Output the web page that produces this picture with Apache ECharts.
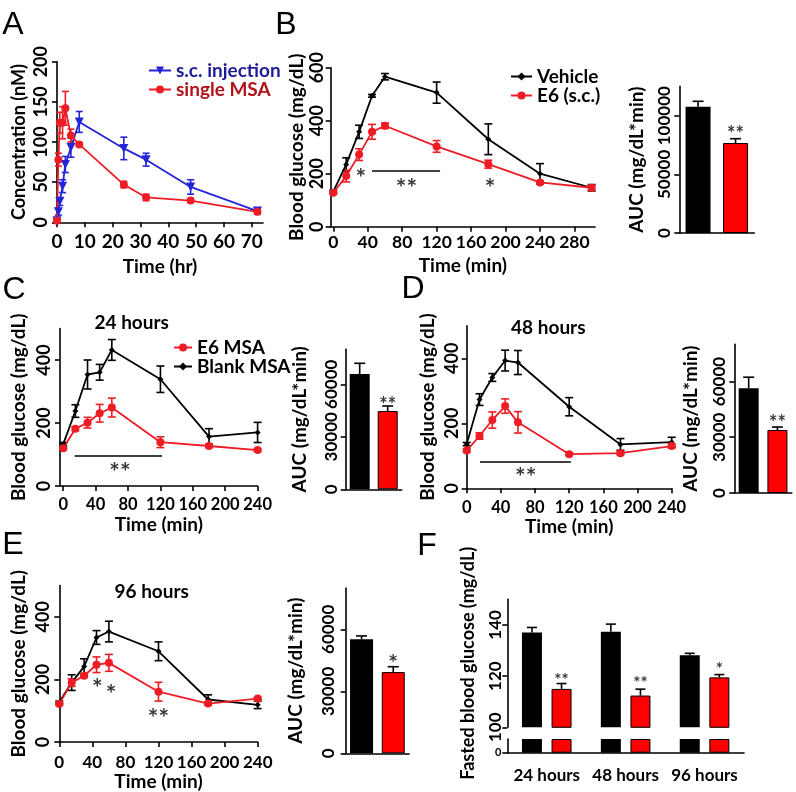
<!DOCTYPE html>
<html><head><meta charset="utf-8">
<script src="https://cdn.jsdelivr.net/npm/echarts@6/dist/echarts.min.js"></script>
<style>html,body{margin:0;padding:0;background:#fff}#c{width:796px;height:792px}</style>
</head><body><div id="c"></div>
<script>
// ---------- DATA ----------
// Panel A (pharmacokinetics)
const aTimes = [0, 0.5, 1, 2, 3, 5, 8, 24, 32, 48, 72];
const aSc = [2, 13, 26, 45, 72, 93, 125, 92, 78, 44, 14];
const aScErr = [2, 4, 5, 8, 10, 12, 13, 14, 8, 9, 4];
const aMsa = [2, 78, 124, 124, 142, 108, 97, 47, 31, 27, 13];
const aMsaErr = [2, 8, 13, 20, 21, 8, 2, 4, 4, 2, 3];
const aXTicks = [0, 10, 20, 30, 40, 50, 60, 70];
const aYTicks = [0, 50, 100, 150, 200];

// Panel B
const bTimes = [0, 15, 30, 45, 60, 120, 180, 240, 300];
const bVeh = [132, 235, 358, 494, 566, 506, 330, 200, 147];
const bVehErr = [5, 25, 25, 5, 12, 40, 58, 38, 12];
const bE6 = [128, 191, 272, 358, 381, 303, 236, 167, 147];
const bE6Err = [5, 22, 22, 28, 10, 22, 15, 6, 10];
const bXTicks = [0, 40, 80, 120, 160, 200, 240, 280];
const bYTicks = [0, 200, 400, 600];
const bSigLine = [45, 124, 211];
const bStars = [[32, 203, '*'], [85, 165, '**'], [182, 166, '*']];
const bAucCats = ['Vehicle', 'E6 (s.c.)'];
const bAuc = [107700, 76700];
const bAucErr = [4600, 3700];
const bAucTicks = [0, 50000, 100000];
const bAucStars = [[1, 88000, '**']];

// Panels C, D, E share time points
const ogttTimes = [0, 15, 30, 45, 60, 120, 180, 240];
const ogttXTicks = [0, 40, 80, 120, 160, 200, 240];
const ogttYTicks = [0, 200, 400];
const aucTicks = [0, 30000, 60000];
const aucCats = ['Blank MSA', 'E6 MSA'];

// Panel C (24 hours)
const cE6 = [120, 182, 201, 231, 249, 139, 127, 114];
const cE6Err = [4, 6, 17, 28, 30, 17, 5, 4];
const cBlank = [133, 238, 354, 361, 432, 339, 157, 170];
const cBlankErr = [5, 20, 46, 25, 33, 42, 25, 32];
const cSigLine = [14, 122, 97];
const cStars = [[70, 61, '**']];
const cAuc = [65900, 44700];
const cAucErr = [6100, 2900];
const cAucStars = [[1, 51000, '**']];

// Panel D (48 hours)
const dBlank = [136, 273, 341, 393, 387, 251, 135, 142];
const dBlankErr = [5, 18, 12, 32, 37, 28, 18, 15];
const dE6 = [116, 161, 210, 253, 203, 105, 108, 130];
const dE6Err = [5, 10, 25, 22, 33, 4, 5, 6];
const dSigLine = [15.6, 122, 82];
const dStars = [[69, 49, '**']];
const dAuc = [56300, 33900];
const dAucErr = [6000, 1600];
const dAucStars = [[1, 40000, '**']];

// Panel E (96 hours)
const eBlank = [127, 190, 241, 334, 353, 290, 136, 119];
const eBlankErr = [4, 25, 25, 22, 33, 30, 15, 12];
const eE6 = [122, 190, 212, 247, 253, 161, 123, 139];
const eE6Err = [4, 12, 5, 25, 27, 30, 5, 4];
const eStars = [[46, 190, '*'], [62.5, 171, '*'], [120, 92, '**']];
const eAuc = [55200, 39300];
const eAucErr = [1600, 2600];
const eAucStars = [[1, 46500, '*']];

// Panel F (fasted blood glucose)
const fCats = ['24 hours', '48 hours', '96 hours'];
const fBlank = [137, 137.3, 128.1];
const fBlankErr = [2, 3, 0.8];
const fE6 = [115, 112.4, 119.5];
const fE6Err = [2.1, 2.5, 1.1];
const fYTicks = [100, 120, 140];
const fStars = [[0, 119.8, '**'], [1, 118.5, '**'], [2, 124.2, '*']];

// ---------- STYLE ----------
const FONT = 'Lato';
const RED = '#ee1c25', BLUE = '#2424d8', BLACK = '#000000';
const plain = v => String(v);

function axisBase(fs) {
  return {
    axisLine: { show: true, onZero: false, lineStyle: { color: '#000', width: 1.6 } },
    axisTick: { show: true, length: 5, lineStyle: { color: '#000', width: 1.6 } },
    splitLine: { show: false },
    axisLabel: { color: '#000', fontFamily: FONT, fontWeight: 'bold', fontSize: fs, formatter: plain },
    nameTextStyle: { color: '#000', fontFamily: FONT, fontWeight: 'bold', fontSize: 19 },
    nameLocation: 'middle'
  };
}
function xValAxis(gi, min, max, ticks, name, gap, fs, margin) {
  const b = axisBase(fs);
  b.axisTick.customValues = ticks;
  b.axisLabel.customValues = ticks;
  b.axisLabel.margin = margin;
  return Object.assign(b, { type: 'value', gridIndex: gi, min, max, name, nameGap: gap });
}
function yValAxis(gi, min, max, ticks, name, gap, fs, margin, nameFs) {
  const b = axisBase(fs);
  b.axisTick.customValues = ticks;
  b.axisLabel.customValues = ticks;
  b.axisLabel.margin = margin;
  b.axisLabel.rotate = 90;
  if (nameFs) b.nameTextStyle.fontSize = nameFs;
  return Object.assign(b, { type: 'value', gridIndex: gi, min, max, name, nameGap: gap });
}
function xCatAxis(gi, cats, showLabels, margin) {
  const b = axisBase(17);
  b.axisTick.show = false;
  b.axisLabel.show = !!showLabels;
  b.axisLabel.margin = margin || 8;
  b.axisLabel.interval = 0;
  delete b.axisLabel.formatter;
  return Object.assign(b, { type: 'category', gridIndex: gi, data: cats });
}

function lineSeries(gi, name, xs, ys, color, symbol, size, rot) {
  return {
    type: 'line', name, xAxisIndex: gi, yAxisIndex: gi,
    data: xs.map((x, i) => [x, ys[i]]),
    symbol, symbolSize: size, symbolRotate: rot || 0, showSymbol: true,
    lineStyle: { color, width: 1.8 }, itemStyle: { color, borderWidth: 0 },
    z: 4, silent: true, animation: false
  };
}
function errSeries(gi, xs, ys, es, color, cap, upOnly, dx) {
  return {
    type: 'custom', xAxisIndex: gi, yAxisIndex: gi, silent: true, animation: false, z: 3, clip: false,
    data: xs.map((x, i) => [x, ys[i], es[i]]),
    renderItem(params, api) {
      const x = api.value(0), y = api.value(1), e = api.value(2);
      const p1 = api.coord([x, y + e]);
      const p0 = api.coord([x, upOnly ? y : y - e]);
      const X = p1[0] + (dx || 0);
      const st = { stroke: color, lineWidth: 1.6 };
      const ch = [
        { type: 'line', shape: { x1: X, y1: p0[1], x2: X, y2: p1[1] }, style: st },
        { type: 'line', shape: { x1: X - cap / 2, y1: p1[1], x2: X + cap / 2, y2: p1[1] }, style: st }
      ];
      if (!upOnly) ch.push({ type: 'line', shape: { x1: X - cap / 2, y1: p0[1], x2: X + cap / 2, y2: p0[1] }, style: st });
      return { type: 'group', children: ch };
    }
  };
}
function starSeries(gi, pts, fs, sig, dx) {
  const s = {
    type: 'scatter', xAxisIndex: gi, yAxisIndex: gi, silent: true, animation: false, z: 6,
    symbolSize: 1, itemStyle: { color: 'transparent' },
    data: pts,
    label: { show: true, position: 'inside', formatter: p => p.data[2], fontFamily: FONT, fontWeight: 'bold',
      fontSize: fs, color: '#000', offset: [dx || 0, Math.round(fs * 0.25)] }
  };
  if (sig) {
    s.markLine = { symbol: 'none', silent: true, animation: false, label: { show: false },
      lineStyle: { color: '#000', width: 1.6, type: 'solid' },
      data: [[{ coord: [sig[0], sig[2]] }, { coord: [sig[1], sig[2]] }]] };
  }
  return s;
}
function barSeries(gi, vals, color, width, gap) {
  return {
    type: 'bar', xAxisIndex: gi, yAxisIndex: gi, silent: true, animation: false, z: 2,
    barWidth: width, barGap: gap,
    data: vals.map((v, i) => [i, v]),
    itemStyle: { color, borderColor: '#000', borderWidth: color === BLACK ? 0 : 1 }
  };
}
function aucBars(gi, vals, errs, width) {
  return [
    { type: 'bar', xAxisIndex: gi, yAxisIndex: gi, silent: true, animation: false, barWidth: width,
      data: vals.map((v, i) => ({ value: v, itemStyle: { color: i === 0 ? BLACK : '#ff0000', borderColor: '#000', borderWidth: i === 0 ? 0 : 1 } })) },
    errSeries(gi, [0, 1], vals, errs, '#000', 11, true, 0)
  ];
}

// ---------- GRIDS ----------
const grids = [
  { left: 57, top: 61.7, width: 206, height: 160.6 },     // 0 A
  { left: 330.7, top: 67.7, width: 264.4, height: 159 },  // 1 B
  { left: 679.3, top: 86.4, width: 75, height: 146.6 },   // 2 B AUC
  { left: 60, top: 328.5, width: 197.6, height: 157.5 },  // 3 C
  { left: 345.7, top: 349.3, width: 56, height: 140 },    // 4 C AUC
  { left: 466.7, top: 325.8, width: 205, height: 162.5 }, // 5 D
  { left: 734.3, top: 344.3, width: 57.5, height: 148.7 },// 6 D AUC
  { left: 59.3, top: 585.5, width: 198.4, height: 158.8 },// 7 E
  { left: 345.7, top: 588, width: 63.4, height: 165.3 },  // 8 E AUC
  { left: 507.3, top: 599.3, width: 236.7, height: 128 }, // 9 F upper
  { left: 507.3, top: 739, width: 236.7, height: 13.7 }   // 10 F lower
];

const fBarW = 20, fGap = 0.48;
const fOff = (fBarW + fBarW * fGap) / 2;

const xAxes = [
  xValAxis(0, 0, 74, aXTicks, 'Time (hr)', 35, 19, 10),
  xValAxis(1, -3, 304, bXTicks, 'Time (min)', 30, 17.5, 7),
  xCatAxis(2, bAucCats),
  xValAxis(3, -4, 240, ogttXTicks, 'Time (min)', 29, 16.5, 10),
  xCatAxis(4, aucCats),
  xValAxis(5, 0, 240, ogttXTicks, 'Time (min)', 27, 16.5, 11),
  xCatAxis(6, aucCats),
  xValAxis(7, 0, 240, ogttXTicks, 'Time (min)', 24, 17, 12),
  xCatAxis(8, aucCats),
  Object.assign(xCatAxis(9, fCats), { axisLine: { show: false } }),
  xCatAxis(10, fCats, true, 14)
];
const yAxes = [
  yValAxis(0, 0, 200, aYTicks, 'Concentration (nM)', 29, 18, 7, 18),
  yValAxis(1, 0, 600, bYTicks, 'Blood glucose (mg/dL)', 23, 18, 5),
  yValAxis(2, 0, 125000, bAucTicks, 'AUC (mg/dL*min)', 33, 17, 6),
  yValAxis(3, 0, 500, ogttYTicks, 'Blood glucose (mg/dL)', 32, 18, 7),
  yValAxis(4, 0, 80000, aucTicks, 'AUC (mg/dL*min)', 36, 17, 6),
  yValAxis(5, 0, 500, ogttYTicks, 'Blood glucose (mg/dL)', 29, 18, 6),
  yValAxis(6, 0, 80000, aucTicks, 'AUC (mg/dL*min)', 34, 17, 6),
  yValAxis(7, 0, 500, ogttYTicks, 'Blood glucose (mg/dL)', 31, 18, 7),
  yValAxis(8, 0, 80000, aucTicks, 'AUC (mg/dL*min)', 40, 17, 9),
  yValAxis(9, 100, 150, fYTicks, 'Fasted blood glucose (mg/dL)', 30, 17, 3, 18),
  Object.assign(yValAxis(10, 0, 10, [0], '', 0, 11, 5), { axisLabel: { rotate: 0, customValues: [0], color: '#000', fontFamily: FONT, fontWeight: 'bold', fontSize: 11, margin: 6 } })
];

const series = [
  // A
  errSeries(0, aTimes, aSc, aScErr, BLUE, 7),
  errSeries(0, aTimes, aMsa, aMsaErr, RED, 7),
  lineSeries(0, 's.c. injection', aTimes, aSc, BLUE, 'triangle', 9, 180),
  lineSeries(0, 'single MSA', aTimes, aMsa, RED, 'circle', 8),
  // B
  errSeries(1, bTimes, bVeh, bVehErr, BLACK, 8),
  errSeries(1, bTimes, bE6, bE6Err, RED, 8),
  lineSeries(1, 'Vehicle', bTimes, bVeh, BLACK, 'diamond', 6),
  lineSeries(1, 'E6 (s.c.)', bTimes, bE6, RED, 'circle', 8),
  starSeries(1, bStars, 25, bSigLine),
  ...aucBars(2, bAuc, bAucErr, 25),
  starSeries(2, bAucStars, 20),
  // C
  errSeries(3, ogttTimes, cBlank, cBlankErr, BLACK, 8),
  errSeries(3, ogttTimes, cE6, cE6Err, RED, 8),
  lineSeries(3, 'Blank MSA', ogttTimes, cBlank, BLACK, 'diamond', 6),
  lineSeries(3, 'E6 MSA', ogttTimes, cE6, RED, 'circle', 8),
  starSeries(3, cStars, 25, cSigLine),
  ...aucBars(4, cAuc, cAucErr, 20),
  starSeries(4, cAucStars, 20),
  // D
  errSeries(5, ogttTimes, dBlank, dBlankErr, BLACK, 8),
  errSeries(5, ogttTimes, dE6, dE6Err, RED, 8),
  lineSeries(5, 'Blank MSA 48h', ogttTimes, dBlank, BLACK, 'diamond', 6),
  lineSeries(5, 'E6 MSA 48h', ogttTimes, dE6, RED, 'circle', 8),
  starSeries(5, dStars, 25, dSigLine),
  ...aucBars(6, dAuc, dAucErr, 20),
  starSeries(6, dAucStars, 20),
  // E
  errSeries(7, ogttTimes, eBlank, eBlankErr, BLACK, 8),
  errSeries(7, ogttTimes, eE6, eE6Err, RED, 8),
  lineSeries(7, 'Blank MSA 96h', ogttTimes, eBlank, BLACK, 'diamond', 6),
  lineSeries(7, 'E6 MSA 96h', ogttTimes, eE6, RED, 'circle', 8),
  starSeries(7, eStars, 25),
  ...aucBars(8, eAuc, eAucErr, 23),
  starSeries(8, eAucStars, 23),
  // F
  barSeries(9, fBlank, BLACK, fBarW, (fGap * 100) + '%'),
  barSeries(9, fE6, '#ff0000', fBarW, (fGap * 100) + '%'),
  errSeries(9, [0, 1, 2], fBlank, fBlankErr, '#000', 10, true, -fOff),
  errSeries(9, [0, 1, 2], fE6, fE6Err, '#000', 10, true, fOff),
  starSeries(9, fStars, 17, null, fOff),
  barSeries(10, fBlank.map(() => 10), BLACK, fBarW, (fGap * 100) + '%'),
  barSeries(10, fE6.map(() => 10), '#ff0000', fBarW, (fGap * 100) + '%')
];

const legendText = { fontFamily: FONT, fontWeight: 'bold', fontSize: 19, color: '#000' };
const legends = [
  { left: 148, top: 61, padding: 0, orient: 'vertical', itemWidth: 22, itemHeight: 10, itemGap: 0, selectedMode: false,
    textStyle: legendText,
    data: [{ name: 's.c. injection', textStyle: { color: '#1c1c9a' } }, { name: 'single MSA', textStyle: { color: '#b3121b' } }] },
  { left: 510, top: 67, padding: 0, orient: 'vertical', itemWidth: 21, itemHeight: 10, itemGap: 0, selectedMode: false,
    textStyle: legendText, data: ['Vehicle', 'E6 (s.c.)'] },
  { left: 173, top: 338, padding: 0, orient: 'vertical', itemWidth: 18, itemHeight: 10, itemGap: 0, selectedMode: false,
    textStyle: legendText, data: ['E6 MSA', 'Blank MSA'] }
];

const letters = [['A', 13, 25], ['B', 286, 25], ['C', 14, 290], ['D', 413, 289], ['E', 13, 545], ['F', 427, 546]];
const panelTitles = [['24 hours', 131.7, 323.3], ['48 hours', 548.3, 328.3], ['96 hours', 151.7, 591.7]];
const graphics = [
  ...letters.map(([t, x, y]) => ({ type: 'text', x, y, silent: true,
    style: { text: t, font: '32px "Liberation Sans"', fill: '#000', align: 'center', verticalAlign: 'middle' } })),
  ...panelTitles.map(([t, x, y]) => ({ type: 'text', x, y, silent: true,
    style: { text: t, font: 'bold 19px Lato', fill: '#000', align: 'center', verticalAlign: 'middle' } }))
];

const chart = echarts.init(document.getElementById('c'), null, { renderer: 'canvas' });
chart.setOption({
  animation: false,
  backgroundColor: '#fff',
  textStyle: { fontFamily: FONT },
  grid: grids,
  xAxis: xAxes,
  yAxis: yAxes,
  legend: legends,
  series,
  graphic: graphics
});
</script></body></html>
